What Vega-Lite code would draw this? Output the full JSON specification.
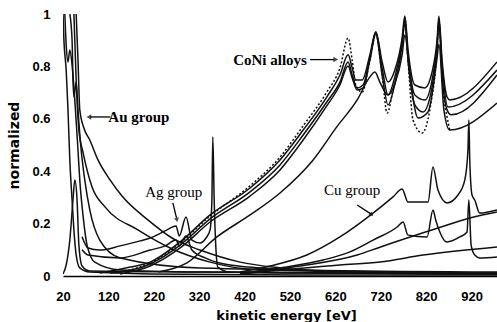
{
"$schema":"https://vega.github.io/schema/vega-lite/v6.json",
"autosize":"none","width":434,"height":262,
"padding":{"left":63,"top":14,"right":0,"bottom":46},
"background":"white",
"config":{"view":{"stroke":null}},
"datasets":{
"curves":[
{"s":"Au1","x":20,"y":1},{"s":"Au1","x":22,"y":0.901},{"s":"Au1","x":27,"y":0.786},{"s":"Au1","x":31,"y":0.634},{"s":"Au1","x":35,"y":0.443},{"s":"Au1","x":40,"y":0.29},{"s":"Au1","x":44,"y":0.176},{"s":"Au1","x":49,"y":0.08},{"s":"Au1","x":57,"y":0.031},{"s":"Au1","x":79,"y":0.015},{"s":"Au1","x":212,"y":0.008},{"s":"Au1","x":542,"y":0.004},{"s":"Au1","x":976,"y":0.004},
{"s":"Au2","x":24,"y":1},{"s":"Au2","x":27,"y":0.882},{"s":"Au2","x":31,"y":0.817},{"s":"Au2","x":35,"y":0.863},{"s":"Au2","x":40,"y":0.805},{"s":"Au2","x":46,"y":0.672},{"s":"Au2","x":53,"y":0.481},{"s":"Au2","x":57,"y":0.366},{"s":"Au2","x":64,"y":0.233},{"s":"Au2","x":73,"y":0.118},{"s":"Au2","x":90,"y":0.053},{"s":"Au2","x":146,"y":0.023},{"s":"Au2","x":322,"y":0.015},{"s":"Au2","x":976,"y":0.008},
{"s":"Au3","x":35,"y":1},{"s":"Au3","x":40,"y":0.901},{"s":"Au3","x":42,"y":0.748},{"s":"Au3","x":44,"y":0.683},{"s":"Au3","x":49,"y":0.74},{"s":"Au3","x":53,"y":0.634},{"s":"Au3","x":60,"y":0.481},{"s":"Au3","x":68,"y":0.366},{"s":"Au3","x":79,"y":0.252},{"s":"Au3","x":101,"y":0.137},{"s":"Au3","x":146,"y":0.069},{"s":"Au3","x":322,"y":0.031},{"s":"Au3","x":976,"y":0.015},
{"s":"Au4","x":49,"y":1},{"s":"Au4","x":53,"y":0.824},{"s":"Au4","x":57,"y":0.634},{"s":"Au4","x":66,"y":0.565},{"s":"Au4","x":79,"y":0.519},{"s":"Au4","x":97,"y":0.443},{"s":"Au4","x":124,"y":0.366},{"s":"Au4","x":150,"y":0.305},{"s":"Au4","x":207,"y":0.214},{"s":"Au4","x":260,"y":0.145},{"s":"Au4","x":322,"y":0.099},{"s":"Au4","x":410,"y":0.053},{"s":"Au4","x":498,"y":0.031},{"s":"Au4","x":652,"y":0.015},{"s":"Au4","x":976,"y":0.008},
{"s":"Au5","x":44,"y":1},{"s":"Au5","x":49,"y":0.748},{"s":"Au5","x":55,"y":0.557},{"s":"Au5","x":64,"y":0.473},{"s":"Au5","x":84,"y":0.34},{"s":"Au5","x":113,"y":0.263},{"s":"Au5","x":185,"y":0.176},{"s":"Au5","x":256,"y":0.107},{"s":"Au5","x":344,"y":0.053},{"s":"Au5","x":454,"y":0.023},{"s":"Au5","x":976,"y":0.011},
{"s":"P1","x":20,"y":0.008},{"s":"P1","x":27,"y":0.042},{"s":"P1","x":35,"y":0.137},{"s":"P1","x":42,"y":0.29},{"s":"P1","x":46,"y":0.366},{"s":"P1","x":51,"y":0.29},{"s":"P1","x":55,"y":0.118},{"s":"P1","x":62,"y":0.038},{"s":"P1","x":79,"y":0.019},{"s":"P1","x":322,"y":0.015},{"s":"P1","x":976,"y":0.008},
{"s":"Ag1","x":62,"y":0.15},{"s":"Ag1","x":75,"y":0.107},{"s":"Ag1","x":101,"y":0.099},{"s":"Ag1","x":146,"y":0.115},{"s":"Ag1","x":190,"y":0.134},{"s":"Ag1","x":212,"y":0.145},{"s":"Ag1","x":245,"y":0.172},{"s":"Ag1","x":269,"y":0.191},{"s":"Ag1","x":276,"y":0.153},{"s":"Ag1","x":291,"y":0.225},{"s":"Ag1","x":304,"y":0.137},{"s":"Ag1","x":322,"y":0.126},{"s":"Ag1","x":335,"y":0.145},{"s":"Ag1","x":344,"y":0.176},{"s":"Ag1","x":348,"y":0.29},{"s":"Ag1","x":350,"y":0.531},{"s":"Ag1","x":353,"y":0.29},{"s":"Ag1","x":357,"y":0.099},{"s":"Ag1","x":361,"y":0.034},{"s":"Ag1","x":388,"y":0.015},{"s":"Ag1","x":542,"y":0.011},{"s":"Ag1","x":976,"y":0.008},
{"s":"Ag2","x":62,"y":0.1},{"s":"Ag2","x":75,"y":0.08},{"s":"Ag2","x":146,"y":0.069},{"s":"Ag2","x":212,"y":0.099},{"s":"Ag2","x":245,"y":0.115},{"s":"Ag2","x":269,"y":0.137},{"s":"Ag2","x":276,"y":0.115},{"s":"Ag2","x":291,"y":0.153},{"s":"Ag2","x":304,"y":0.099},{"s":"Ag2","x":333,"y":0.069},{"s":"Ag2","x":388,"y":0.042},{"s":"Ag2","x":542,"y":0.023},{"s":"Ag2","x":976,"y":0.011},
{"s":"C1","x":101,"y":0.011},{"s":"C1","x":168,"y":0.034},{"s":"C1","x":212,"y":0.053},{"s":"C1","x":278,"y":0.13},{"s":"C1","x":344,"y":0.233},{"s":"C1","x":432,"y":0.336},{"s":"C1","x":498,"y":0.443},{"s":"C1","x":549,"y":0.557},{"s":"C1","x":601,"y":0.683},{"s":"C1","x":630,"y":0.767},{"s":"C1","x":648,"y":0.844},{"s":"C1","x":657,"y":0.794},{"s":"C1","x":665,"y":0.748},{"s":"C1","x":679,"y":0.748},{"s":"C1","x":696,"y":0.844},{"s":"C1","x":709,"y":0.931},{"s":"C1","x":723,"y":0.817},{"s":"C1","x":736,"y":0.74},{"s":"C1","x":751,"y":0.786},{"s":"C1","x":767,"y":0.908},{"s":"C1","x":773,"y":0.992},{"s":"C1","x":780,"y":0.863},{"s":"C1","x":795,"y":0.729},{"s":"C1","x":817,"y":0.718},{"s":"C1","x":833,"y":0.779},{"s":"C1","x":844,"y":0.901},{"s":"C1","x":848,"y":0.992},{"s":"C1","x":855,"y":0.824},{"s":"C1","x":866,"y":0.683},{"s":"C1","x":872,"y":0.672},{"s":"C1","x":976,"y":0.817},
{"s":"C2","x":124,"y":0.011},{"s":"C2","x":212,"y":0.046},{"s":"C2","x":278,"y":0.118},{"s":"C2","x":344,"y":0.218},{"s":"C2","x":432,"y":0.321},{"s":"C2","x":498,"y":0.424},{"s":"C2","x":549,"y":0.538},{"s":"C2","x":601,"y":0.664},{"s":"C2","x":630,"y":0.74},{"s":"C2","x":648,"y":0.817},{"s":"C2","x":657,"y":0.767},{"s":"C2","x":668,"y":0.718},{"s":"C2","x":681,"y":0.729},{"s":"C2","x":696,"y":0.832},{"s":"C2","x":709,"y":0.931},{"s":"C2","x":723,"y":0.794},{"s":"C2","x":736,"y":0.691},{"s":"C2","x":751,"y":0.76},{"s":"C2","x":767,"y":0.893},{"s":"C2","x":773,"y":0.977},{"s":"C2","x":780,"y":0.844},{"s":"C2","x":795,"y":0.691},{"s":"C2","x":817,"y":0.672},{"s":"C2","x":833,"y":0.748},{"s":"C2","x":844,"y":0.882},{"s":"C2","x":848,"y":0.977},{"s":"C2","x":855,"y":0.805},{"s":"C2","x":868,"y":0.645},{"s":"C2","x":976,"y":0.786},
{"s":"C3","x":146,"y":0.008},{"s":"C3","x":212,"y":0.038},{"s":"C3","x":278,"y":0.107},{"s":"C3","x":344,"y":0.206},{"s":"C3","x":432,"y":0.305},{"s":"C3","x":498,"y":0.405},{"s":"C3","x":549,"y":0.519},{"s":"C3","x":601,"y":0.649},{"s":"C3","x":630,"y":0.729},{"s":"C3","x":648,"y":0.802},{"s":"C3","x":657,"y":0.756},{"s":"C3","x":668,"y":0.71},{"s":"C3","x":681,"y":0.718},{"s":"C3","x":696,"y":0.824},{"s":"C3","x":709,"y":0.924},{"s":"C3","x":723,"y":0.767},{"s":"C3","x":736,"y":0.653},{"s":"C3","x":751,"y":0.733},{"s":"C3","x":767,"y":0.882},{"s":"C3","x":773,"y":0.969},{"s":"C3","x":780,"y":0.824},{"s":"C3","x":795,"y":0.653},{"s":"C3","x":813,"y":0.626},{"s":"C3","x":833,"y":0.721},{"s":"C3","x":844,"y":0.87},{"s":"C3","x":848,"y":0.969},{"s":"C3","x":855,"y":0.767},{"s":"C3","x":866,"y":0.634},{"s":"C3","x":875,"y":0.615},{"s":"C3","x":976,"y":0.767},
{"s":"C5","x":230,"y":0.015},{"s":"C5","x":293,"y":0.05},{"s":"C5","x":359,"y":0.149},{"s":"C5","x":432,"y":0.233},{"s":"C5","x":498,"y":0.317},{"s":"C5","x":571,"y":0.443},{"s":"C5","x":623,"y":0.569},{"s":"C5","x":668,"y":0.672},{"s":"C5","x":696,"y":0.76},{"s":"C5","x":707,"y":0.779},{"s":"C5","x":718,"y":0.74},{"s":"C5","x":736,"y":0.691},{"s":"C5","x":751,"y":0.733},{"s":"C5","x":767,"y":0.844},{"s":"C5","x":773,"y":0.92},{"s":"C5","x":784,"y":0.767},{"s":"C5","x":802,"y":0.603},{"s":"C5","x":824,"y":0.626},{"s":"C5","x":844,"y":0.832},{"s":"C5","x":848,"y":0.885},{"s":"C5","x":859,"y":0.634},{"s":"C5","x":872,"y":0.557},{"s":"C5","x":976,"y":0.66},
{"s":"Cu1","x":410,"y":0.015},{"s":"Cu1","x":476,"y":0.038},{"s":"Cu1","x":557,"y":0.08},{"s":"Cu1","x":630,"y":0.149},{"s":"Cu1","x":703,"y":0.24},{"s":"Cu1","x":747,"y":0.302},{"s":"Cu1","x":767,"y":0.332},{"s":"Cu1","x":780,"y":0.282},{"s":"Cu1","x":824,"y":0.282},{"s":"Cu1","x":835,"y":0.416},{"s":"Cu1","x":846,"y":0.328},{"s":"Cu1","x":866,"y":0.279},{"s":"Cu1","x":890,"y":0.309},{"s":"Cu1","x":905,"y":0.366},{"s":"Cu1","x":912,"y":0.481},{"s":"Cu1","x":914,"y":0.595},{"s":"Cu1","x":916,"y":0.443},{"s":"Cu1","x":921,"y":0.309},{"s":"Cu1","x":927,"y":0.29},{"s":"Cu1","x":938,"y":0.24},{"s":"Cu1","x":976,"y":0.252},
{"s":"Cu2","x":410,"y":0.011},{"s":"Cu2","x":498,"y":0.031},{"s":"Cu2","x":593,"y":0.061},{"s":"Cu2","x":652,"y":0.092},{"s":"Cu2","x":703,"y":0.137},{"s":"Cu2","x":756,"y":0.187},{"s":"Cu2","x":769,"y":0.206},{"s":"Cu2","x":780,"y":0.156},{"s":"Cu2","x":822,"y":0.149},{"s":"Cu2","x":835,"y":0.252},{"s":"Cu2","x":841,"y":0.214},{"s":"Cu2","x":866,"y":0.13},{"s":"Cu2","x":894,"y":0.149},{"s":"Cu2","x":910,"y":0.168},{"s":"Cu2","x":914,"y":0.29},{"s":"Cu2","x":919,"y":0.118},{"s":"Cu2","x":927,"y":0.08},{"s":"Cu2","x":938,"y":0.069},{"s":"Cu2","x":976,"y":0.073},
{"s":"Cu3","x":410,"y":0.008},{"s":"Cu3","x":542,"y":0.038},{"s":"Cu3","x":668,"y":0.08},{"s":"Cu3","x":718,"y":0.11},{"s":"Cu3","x":846,"y":0.183},{"s":"Cu3","x":916,"y":0.221},{"s":"Cu3","x":976,"y":0.244},
{"s":"Cu4","x":410,"y":0.008},{"s":"Cu4","x":630,"y":0.042},{"s":"Cu4","x":718,"y":0.053},{"s":"Cu4","x":813,"y":0.08},{"s":"Cu4","x":976,"y":0.111}
],
"dotted":[
{"s":"C4","x":146,"y":0.015},{"s":"C4","x":212,"y":0.05},{"s":"C4","x":278,"y":0.126},{"s":"C4","x":344,"y":0.229},{"s":"C4","x":432,"y":0.344},{"s":"C4","x":498,"y":0.454},{"s":"C4","x":549,"y":0.573},{"s":"C4","x":601,"y":0.702},{"s":"C4","x":630,"y":0.794},{"s":"C4","x":648,"y":0.908},{"s":"C4","x":657,"y":0.824},{"s":"C4","x":665,"y":0.729},{"s":"C4","x":679,"y":0.702},{"s":"C4","x":696,"y":0.824},{"s":"C4","x":709,"y":0.924},{"s":"C4","x":723,"y":0.767},{"s":"C4","x":734,"y":0.622},{"s":"C4","x":747,"y":0.71},{"s":"C4","x":767,"y":0.882},{"s":"C4","x":773,"y":0.985},{"s":"C4","x":780,"y":0.824},{"s":"C4","x":791,"y":0.595},{"s":"C4","x":811,"y":0.546},{"s":"C4","x":828,"y":0.634},{"s":"C4","x":844,"y":0.863},{"s":"C4","x":848,"y":0.969},{"s":"C4","x":857,"y":0.71},{"s":"C4","x":866,"y":0.607},{"s":"C4","x":872,"y":0.557}
],
"labels":[
{"t":"CoNi alloys","x":476,"y":0.824,"w":"b"},{"t":"Au group","x":187,"y":0.607,"w":"b"},{"t":"Ag group","x":264,"y":0.32,"w":"n"},{"t":"Cu group","x":657,"y":0.328,"w":"n"}
],
"arrows":[
{"a":"CoNi","x":564,"y":0.826,"x2":617,"y2":0.826},{"a":"Au","x":124,"y":0.607,"x2":80,"y2":0.607},{"a":"Ag","x":262,"y":0.279,"x2":270,"y2":0.222},{"a":"Cu","x":668,"y":0.271,"x2":698,"y2":0.237}
],
"heads":[
{"a":"CoNi","x":621,"y":0.826},{"a":"Au","x":77,"y":0.607},{"a":"Ag","x":271,"y":0.214},{"a":"Cu","x":700,"y":0.234}
]
},
"layer":[
{"data":{"name":"curves"},
 "mark":{"type":"line","interpolate":"monotone","color":"#111","strokeWidth":1.5,"clip":true},
 "encoding":{
  "x":{"field":"x","type":"quantitative","scale":{"domain":[20,976],"nice":false,"zero":false},
   "axis":{"values":[20,120,220,320,420,520,620,720,820,920],"ticks":false,"grid":false,"domain":true,"domainColor":"#000","domainWidth":1.5,"labelFlush":false,"labelOverlap":false,"labelFont":"Liberation Sans","labelFontWeight":"bold","labelFontSize":13,"labelColor":"#000","labelPadding":14,"title":"kinetic energy [eV]","titleFont":"DejaVu Sans","titleFontSize":13,"titleFontWeight":"bold","titleColor":"#000","titleX":223,"titleY":39,"titleAlign":"center","titleBaseline":"middle"}},
  "y":{"field":"y","type":"quantitative","scale":{"domain":[0,1],"nice":false,"zero":true},
   "axis":{"values":[0,0.2,0.4,0.6,0.8,1],"format":"~g","ticks":false,"grid":false,"domain":false,"labelFlush":false,"labelOverlap":false,"labelFont":"Liberation Sans","labelFontWeight":"bold","labelFontSize":13,"labelColor":"#000","labelPadding":13,"title":"normalized","titleFont":"DejaVu Sans","titleFontSize":14,"titleFontWeight":"bold","titleColor":"#000","titleX":-49,"titleY":131,"titleAngle":-90,"titleAlign":"center","titleBaseline":"middle"}},
  "detail":{"field":"s","type":"nominal"}
 }},
{"data":{"name":"dotted"},
 "mark":{"type":"line","interpolate":"monotone","color":"#111","strokeWidth":1.5,"strokeDash":[2,2],"clip":true},
 "encoding":{"x":{"field":"x","type":"quantitative"},"y":{"field":"y","type":"quantitative"},"detail":{"field":"s","type":"nominal"}}},
{"mark":{"type":"rule","color":"#111","strokeWidth":1.2,"strokeDash":[3,4]},
 "encoding":{"y":{"datum":1}}},
{"data":{"name":"labels"},"transform":[{"filter":"datum.w=='b'"}],
 "mark":{"type":"text","font":"Liberation Serif","fontSize":15,"fontWeight":"bold","color":"#000","align":"center","baseline":"middle"},
 "encoding":{"x":{"field":"x","type":"quantitative"},"y":{"field":"y","type":"quantitative"},"text":{"field":"t"}}},
{"data":{"name":"labels"},"transform":[{"filter":"datum.w=='n'"}],
 "mark":{"type":"text","font":"Liberation Serif","fontSize":15,"color":"#000","align":"center","baseline":"middle"},
 "encoding":{"x":{"field":"x","type":"quantitative"},"y":{"field":"y","type":"quantitative"},"text":{"field":"t"}}},
{"data":{"name":"arrows"},
 "mark":{"type":"rule","color":"#000","strokeWidth":1.3},
 "encoding":{"x":{"field":"x","type":"quantitative"},"y":{"field":"y","type":"quantitative"},"x2":{"field":"x2"},"y2":{"field":"y2"}}},
{"data":{"name":"heads"},"transform":[{"filter":"datum.a=='CoNi'"}],
 "mark":{"type":"point","shape":"triangle-right","filled":true,"color":"#000","size":30},
 "encoding":{"x":{"field":"x","type":"quantitative"},"y":{"field":"y","type":"quantitative"}}},
{"data":{"name":"heads"},"transform":[{"filter":"datum.a=='Au'"}],
 "mark":{"type":"point","shape":"triangle-left","filled":true,"color":"#000","size":30},
 "encoding":{"x":{"field":"x","type":"quantitative"},"y":{"field":"y","type":"quantitative"}}},
{"data":{"name":"heads"},"transform":[{"filter":"datum.a=='Ag'"}],
 "mark":{"type":"point","shape":"triangle-down","filled":true,"color":"#000","size":25,"angle":-13},
 "encoding":{"x":{"field":"x","type":"quantitative"},"y":{"field":"y","type":"quantitative"}}},
{"data":{"name":"heads"},"transform":[{"filter":"datum.a=='Cu'"}],
 "mark":{"type":"point","shape":"triangle-down","filled":true,"color":"#000","size":25,"angle":-50},
 "encoding":{"x":{"field":"x","type":"quantitative"},"y":{"field":"y","type":"quantitative"}}}
]
}
